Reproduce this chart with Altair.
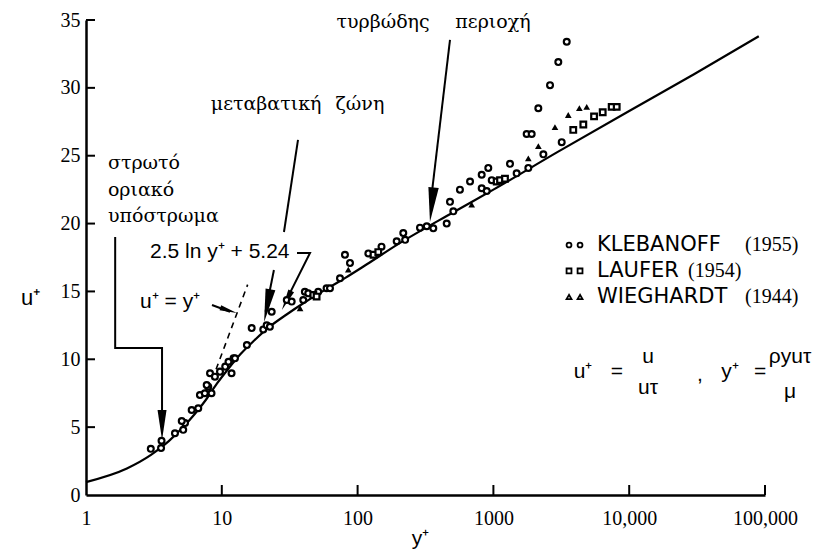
import altair as alt
import pandas as pd

# ---- law-of-the-wall curve (y+, u+) ----
curve_yplus = [1, 2, 3.01, 4.05, 5.13, 6.3, 7.62, 9.2, 11.18, 13.8, 17.41, 22.5, 30,
               40.9, 57.1, 81.2, 117, 200, 500, 1000, 3000, 10000, 30000, 90000]
curve_uplus = [0.95, 1.95, 2.95, 3.95, 4.95, 5.95, 7.0, 8.2, 9.3, 10.4, 11.4, 12.4, 13.3,
               14.2, 15.1, 16.0, 17.0, 18.5, 20.8, 22.5, 25.3, 28.3, 31.0, 33.8]

# ---- viscous sublayer line u+ = y+ ----
visc_yplus = [8.5, 15.5]
visc_uplus = [8.5, 15.5]

# ---- measurements ----
kleb_yplus = [3.0, 3.57, 3.6, 4.52, 5.2, 5.36, 5.07, 6.0, 6.71, 6.9, 7.5, 7.95, 8.4, 7.74,
              8.19, 8.9, 9.7, 10.6, 11.2, 12.2, 11.8, 12.5, 15.3, 16.6, 20.2, 21.4, 22.6,
              23.3, 30.1, 32.7, 39.8, 40.9, 43.3, 51.3, 59.1, 62.6, 74.2, 80.7, 87.9,
              120, 150, 194, 217, 224, 288, 323, 361, 453, 479, 507, 567, 673, 820,
              917, 820, 893, 972, 1325, 1483, 1808, 2333, 3184, 1758, 1914, 2142,
              2612, 3006, 3467]
kleb_uplus = [3.4, 3.46, 4.0, 4.55, 4.8, 5.3, 5.45, 6.26, 6.39, 7.37, 7.5, 7.98, 7.5, 8.1,
              8.97, 8.72, 9.09, 9.46, 9.82, 10.07, 8.97, 10.07, 11.05, 12.3, 12.2, 12.5, 12.4,
              13.5, 14.37, 14.25, 14.37, 14.98, 14.86, 14.98, 15.23, 15.23, 15.97, 17.7, 17.1,
              17.8, 18.3, 18.7, 19.3, 18.8, 19.7, 19.8, 19.65, 20.0, 21.6, 20.9, 22.5, 23.1, 23.6,
              24.1, 22.6, 22.4, 23.2, 24.4, 23.7, 24.1, 25.1, 26.0, 26.6, 26.6, 28.5,
              30.2, 31.9, 33.4]

lauf_yplus = [47.2, 49.9, 131, 142, 1057, 1119, 1217, 3873, 4594, 5510, 6380, 7430, 8090]
lauf_uplus = [14.74, 14.62, 17.7, 17.9, 23.1, 23.2, 23.3, 26.9, 27.3, 27.9, 28.2, 28.6, 28.6]

wieg_yplus = [37.7, 85.4, 692, 1808, 2143, 2840, 3559, 4296, 4865]
wieg_uplus = [13.76, 16.6, 21.4, 24.8, 25.7, 27.1, 28.0, 28.5, 28.6]

# ---- axis ticks ----
x_ticks = [1, 10, 100, 1000, 10000, 100000]
y_ticks = [0, 5, 10, 15, 20, 25, 30, 35]

curve = pd.DataFrame({"yp": curve_yplus, "up": curve_uplus})
visc = pd.DataFrame({"yp": visc_yplus, "up": visc_uplus})
kleb = pd.DataFrame({"yp": kleb_yplus, "up": kleb_uplus})
lauf = pd.DataFrame({"yp": lauf_yplus, "up": lauf_uplus})
wieg = pd.DataFrame({"yp": wieg_yplus, "up": wieg_uplus})

SERIF = "Liberation Serif"
SANS = "Liberation Sans"
GREEK = "DejaVu Serif"

xenc = alt.X(
    "yp:Q",
    scale=alt.Scale(type="log", domain=[1, 100000]),
    axis=alt.Axis(
        values=x_ticks, ticks=False, grid=False, labelFlush=False, labelOverlap=False,
        labelExpr="datum.value >= 10000 ? format(datum.value, ',') : format(datum.value, 'd')",
        labelPadding=13, labelFont=SERIF, labelFontSize=20, labelColor="black",
        domainColor="black", domainWidth=2.5,
        title="y⁺", titleFont=SANS, titleFontSize=21, titleFontWeight="normal",
        titleColor="black", titleX=334, titleY=43, titleBaseline="middle",
    ),
)
yenc = alt.Y(
    "up:Q",
    scale=alt.Scale(domain=[0, 35]),
    axis=alt.Axis(
        values=y_ticks, ticks=False, grid=False, labelOverlap=False, labelFlush=False,
        labelPadding=6, labelFont=SERIF, labelFontSize=20, labelColor="black",
        domainColor="black", domainWidth=2.5,
        title="u⁺", titleFont=SANS, titleFontSize=22, titleFontWeight="normal",
        titleColor="black", titleAngle=0, titleX=-56, titleY=277,
        titleAlign="center", titleBaseline="middle",
    ),
)

curve_line = alt.Chart(curve).mark_line(color="black", strokeWidth=2.2, interpolate="monotone").encode(
    x=xenc, y=yenc)
visc_line = alt.Chart(visc).mark_line(color="black", strokeWidth=1.6, strokeDash=[6, 5]).encode(
    x="yp:Q", y="up:Q")

kleb_pts = alt.Chart(kleb).mark_point(shape="circle", size=34, strokeWidth=2.2, color="black",
                                      fill="white", fillOpacity=1, opacity=1).encode(x="yp:Q", y="up:Q")
lauf_pts = alt.Chart(lauf).mark_point(shape="square", size=32, strokeWidth=2.2, color="black",
                                      fill="white", fillOpacity=1, opacity=1).encode(x="yp:Q", y="up:Q")
wieg_pts = alt.Chart(wieg).mark_point(shape="triangle-up", size=45, filled=True, color="black",
                                      opacity=1).encode(x="yp:Q", y="up:Q")

# inward tick marks
ytick_df = pd.DataFrame({"up": y_ticks[1:]})
ytick_marks = alt.Chart(ytick_df).mark_rule(color="black", strokeWidth=2).encode(
    y="up:Q", x=alt.value(0), x2=alt.value(9))
xtick_df = pd.DataFrame({"yp": x_ticks[1:]})
xtick_marks = alt.Chart(xtick_df).mark_rule(color="black", strokeWidth=2).encode(
    x="yp:Q", y=alt.value(475), y2=alt.value(465))

# ---- annotation arrows (data coordinates) ----
arrow_seg = [1, 1, 1, 1, 2, 2, 3, 3, 4, 4, 4, 5, 5, 6, 6]
arrow_ord = [0, 1, 2, 3, 0, 1, 0, 1, 0, 1, 2, 0, 1, 0, 1]
arrow_yp = [1.64, 1.64, 3.63, 3.63, 36.4, 28.7, 24.2, 21.0, 35.8, 44.6, 29.0, 8.47, 11.5, 479, 345]
arrow_up = [19.01, 10.83, 10.83, 5.5, 26.16, 19.38, 16.58, 13.5, 17.83, 17.83, 14.1, 14.0, 13.5, 33.53, 21.5]
arrows = pd.DataFrame({"seg": arrow_seg, "ord": arrow_ord, "yp": arrow_yp, "up": arrow_up})
arrow_lines = alt.Chart(arrows).mark_line(color="black", strokeWidth=2).encode(
    x="yp:Q", y="up:Q", detail="seg:N", order="ord:Q")

head_yp = [3.63, 20.5, 27.7, 12.9, 341]
head_up = [4.05, 12.75, 13.63, 13.41, 20.12]
head_angle = [180, 191, 206, 108, 186]
head_size = [900, 1100, 450, 300, 1200]
heads = pd.DataFrame({"yp": head_yp, "up": head_up, "ang": head_angle, "sz": head_size})
arrow_heads = alt.Chart(heads).mark_point(
    shape="M0,0L0.3,2L-0.3,2Z", filled=True, color="black", opacity=1).encode(
    x="yp:Q", y="up:Q", angle=alt.Angle("ang:Q", scale=None), size=alt.Size("sz:Q", scale=None))

# ---- region labels ----
center_txt = ["τυρβώδης", "περιοχή", "μεταβατική", "ζώνη"]
center_yp = [154, 993, 21.2, 104]
center_up = [34.86, 34.86, 28.81, 28.81]
lab_c = alt.Chart(pd.DataFrame({"t": center_txt, "yp": center_yp, "up": center_up})).mark_text(
    font=GREEK, fontSize=19, color="black", align="center", baseline="middle").encode(
    x="yp:Q", y="up:Q", text="t:N")

left_txt = ["στρωτό", "οριακό", "υπόστρωμα"]
left_yp = [1.45, 1.45, 1.45]
left_up = [24.47, 22.48, 20.56]
lab_l = alt.Chart(pd.DataFrame({"t": left_txt, "yp": left_yp, "up": left_up})).mark_text(
    font=GREEK, fontSize=19, color="black", align="left", baseline="middle").encode(
    x="yp:Q", y="up:Q", text="t:N")

eq_txt = ["2.5 ln y⁺ + 5.24", "u⁺ = y⁺"]
eq_yp = [2.96, 2.5]
eq_up = [17.91, 14.22]
lab_eq = alt.Chart(pd.DataFrame({"t": eq_txt, "yp": eq_yp, "up": eq_up})).mark_text(
    font=SANS, fontSize=21, color="black", align="left", baseline="middle").encode(
    x="yp:Q", y="up:Q", text="t:N")

# ---- key ----
key_up = [18.42, 16.51, 14.59]
key_x1, key_x2 = 3604, 4345
key_kleb = alt.Chart(pd.DataFrame({"yp": [key_x1, key_x2], "up": [key_up[0]] * 2})).mark_point(
    shape="circle", size=24, strokeWidth=1.8, color="black", opacity=1).encode(x="yp:Q", y="up:Q")
key_lauf = alt.Chart(pd.DataFrame({"yp": [key_x1, key_x2], "up": [key_up[1]] * 2})).mark_point(
    shape="square", size=24, strokeWidth=1.8, color="black", opacity=1).encode(x="yp:Q", y="up:Q")
key_wieg = alt.Chart(pd.DataFrame({"yp": [key_x1, key_x2], "up": [key_up[2]] * 2})).mark_point(
    shape="triangle-up", size=24, strokeWidth=1.8, color="black", opacity=1).encode(x="yp:Q", y="up:Q")

key_names = ["KLEBANOFF", "LAUFER", "WIEGHARDT"]
key_years = ["(1955)", "(1954)", "(1944)"]
key_year_yp = [71300, 27100, 71300]
key_name_lab = alt.Chart(pd.DataFrame({"t": key_names, "yp": [5790] * 3, "up": key_up})).mark_text(
    font="DejaVu Sans", fontSize=21, color="black", align="left", baseline="middle").encode(
    x="yp:Q", y="up:Q", text="t:N")
key_year_lab = alt.Chart(pd.DataFrame({"t": key_years, "yp": key_year_yp, "up": key_up})).mark_text(
    font=SERIF, fontSize=20, color="black", align="left", baseline="middle").encode(
    x="yp:Q", y="up:Q", text="t:N")

# ---- definitions u+ = u/u_tau , y+ = rho y u_tau / mu ----
def_txt = ["u⁺", "=", "u", "uτ", ",", "y⁺", "=", "ρyuτ", "μ"]
def_yp = [4570, 8130, 13750, 13750, 33200, 55200, 91900, 152800, 152800]
def_up = [9.06, 9.06, 10.17, 7.88, 8.84, 9.06, 9.06, 10.17, 7.59]
defs = alt.Chart(pd.DataFrame({"t": def_txt, "yp": def_yp, "up": def_up})).mark_text(
    font=SANS, fontSize=21, color="black", align="center", baseline="middle").encode(
    x="yp:Q", y="up:Q", text="t:N")

chart = alt.layer(
    curve_line, visc_line, ytick_marks, xtick_marks, arrow_lines, arrow_heads,
    kleb_pts, lauf_pts, wieg_pts,
    lab_c, lab_l, lab_eq,
    key_kleb, key_lauf, key_wieg, key_name_lab, key_year_lab, defs,
).properties(
    width=679, height=475,
    autosize=alt.AutoSizeParams(type="none"),
    padding={"left": 86, "top": 20, "right": 48, "bottom": 59},
    background="white",
).configure_view(stroke=None)

chart.save("out.html", embed_options={"renderer": "svg", "actions": False})
